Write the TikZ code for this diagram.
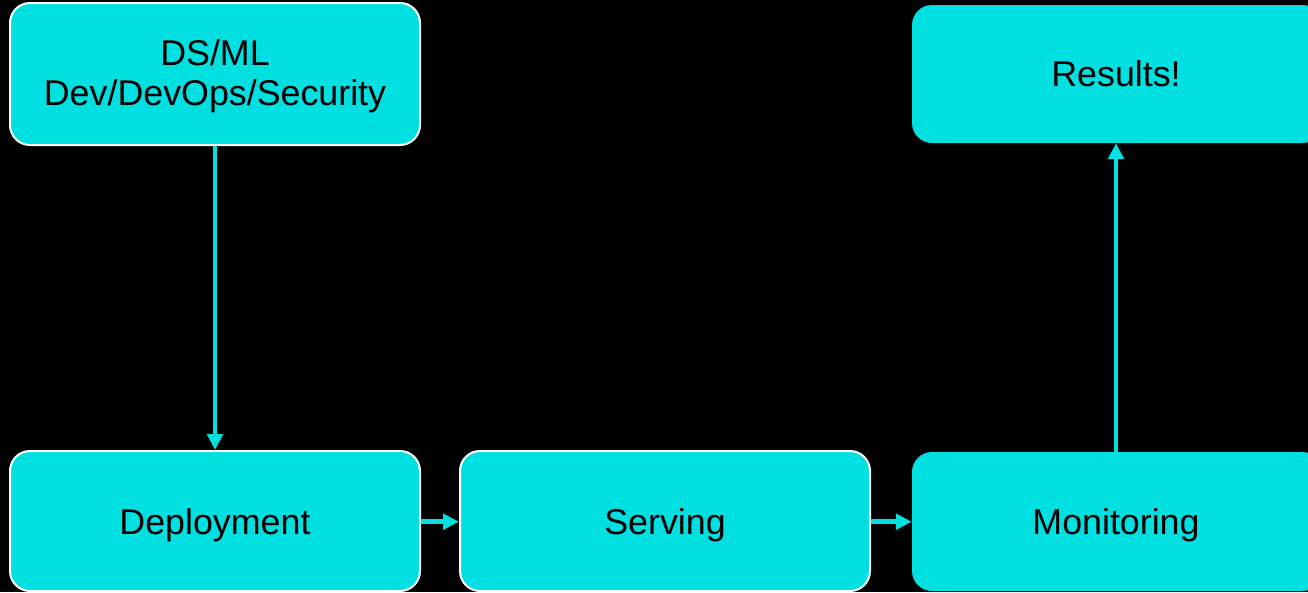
\documentclass[tikz,border=0pt]{standalone}
\usepackage{fontspec}
\setmainfont{Liberation Sans}
\usetikzlibrary{arrows.meta}
\definecolor{aqua}{RGB}{0,224,224}
\begin{document}
\begin{tikzpicture}[x=1pt,y=-1pt,
  box/.style={rectangle, rounded corners=20pt, fill=aqua, inner sep=0pt,
    minimum width=410pt, minimum height=140pt},
  edged/.style={draw=white, line width=2pt},
  caption/.style={anchor=base, inner sep=0pt, text=black,
    font=\fontsize{35.8}{41}\selectfont},
  flow/.style={draw=aqua, line width=4.6pt, -{Triangle[length=16pt,width=15.5pt]}}]
  % page
  \fill[black] (0,0) rectangle (1308,592);
  \useasboundingbox (0,0) rectangle (1308,592);
  % stages
  \node[box, edged, minimum height=142pt] (team) at (215,74) {};
  \node[box, minimum height=138pt] (res) at (1117,74) {};
  \node[box, edged] (dep) at (215,521) {};
  \node[box, edged] (srv) at (665,521) {};
  \node[box, minimum height=139pt] (mon) at (1117,521.5) {};
  % stage names, set on their baselines
  \node[caption] (team-a) at (215,65) {DS/ML};
  \node[caption] (team-b) at (215,105) {Dev/DevOps/Security};
  \node[caption] (res-t) at (1116,86.5) {Results!};
  \node[caption] (dep-t) at (215,534.5) {Deployment};
  \node[caption] (srv-t) at (665,534.5) {Serving};
  \node[caption] (mon-t) at (1116,534.5) {Monitoring};
  % connectors
  \draw[flow] (team.south) -- (dep.north);
  \draw[flow] (dep.east |- 0,521.7) -- (srv.west |- 0,521.7);
  \draw[flow] (srv.east |- 0,521.7) -- (mon.west |- 0,521.7);
  \draw[flow] (mon.north -| 1116,0) -- (res.south -| 1116,0);
\end{tikzpicture}
\end{document}
